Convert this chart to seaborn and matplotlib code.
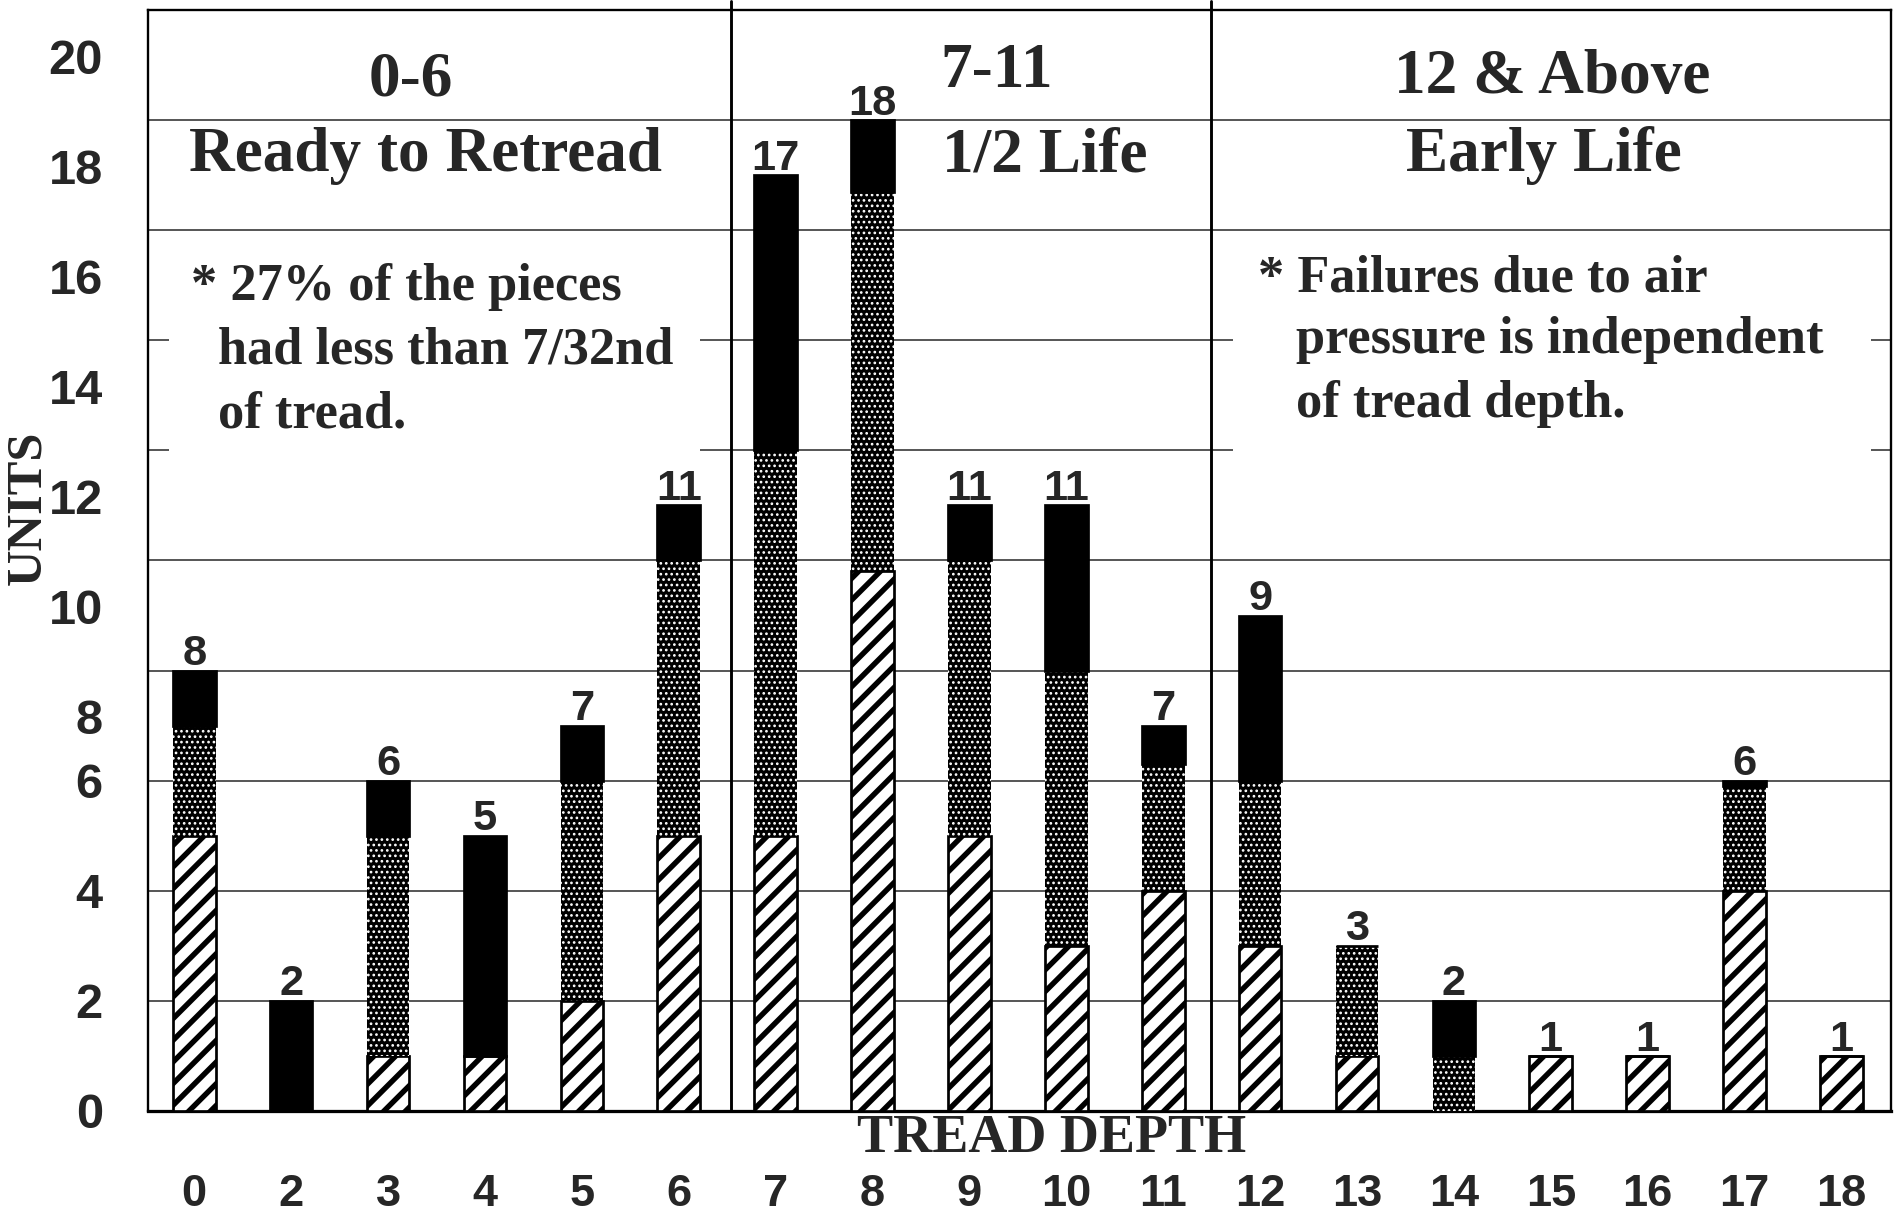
import numpy as np
import pandas as pd
import matplotlib
matplotlib.use('Agg')
import matplotlib.pyplot as plt
import matplotlib.transforms as mtransforms
from matplotlib.patches import Rectangle
import seaborn as sns

# Données
depth_labels = ['0', '2', '3', '4', '5', '6', '7', '8', '9', '10', '11',
                '12', '13', '14', '15', '16', '17', '18']
hatched_units = [5, 0, 1, 1, 2, 5, 5, 9.8, 5, 3, 4, 3, 1, 0, 1, 1, 4, 1]
dotted_units = [2, 0, 4, 0, 4, 5, 7, 6.9, 5, 5, 2.3, 3, 2, 1, 0, 0, 1.9, 0]
black_units = [1, 2, 1, 4, 1, 1, 5, 1.3, 1, 3, 0.7, 3, 0, 1, 0, 0, 0.1, 0]
total_labels = [8, 2, 6, 5, 7, 11, 17, 18, 11, 11, 7, 9, 3, 2, 1, 1, 6, 1]

y_ticks = [0, 2, 4, 6, 8, 10, 12, 14, 16, 18, 20]

section_titles = ['0-6', '7-11', '12 & Above']
section_subtitles = ['Ready to Retread', '1/2 Life', 'Early Life']
note_left = ['* 27% of the pieces', 'had less than 7/32nd', 'of tread.']
note_right = ['* Failures due to air', 'pressure is independent', 'of tread depth.']

df = pd.DataFrame({
    'depth': depth_labels,
    'hatched': hatched_units,
    'dotted': dotted_units,
    'black': black_units,
})

sns.set_theme(style='white')
plt.rcParams['font.family'] = ['Liberation Sans', 'DejaVu Sans']

DPI = 130
fig = plt.figure(figsize=(1904 / DPI, 1217 / DPI), dpi=DPI)
ax = fig.add_axes([0.0777, 0.0871, 0.9154, 0.9047])

bar_kw = dict(x='depth', order=depth_labels, width=0.44, saturation=1,
              errorbar=None, ax=ax, zorder=3)

# Partie hachurée (bas)
with plt.rc_context({'hatch.linewidth': 3.0}):
    sns.barplot(data=df, y='hatched', color='white', hatch='//',
                edgecolor='black', linewidth=1.5, **bar_kw)
# Partie pointillée (noir à points blancs)
with plt.rc_context({'hatch.linewidth': 0.9}):
    sns.barplot(data=df, y='dotted', bottom=df['hatched'].values,
                color='black', hatch='....', edgecolor='white', linewidth=0,
                **bar_kw)
# Partie noire (haut)
sns.barplot(data=df, y='black', bottom=(df['hatched'] + df['dotted']).values,
            color='black', edgecolor='black', linewidth=1.5, **bar_kw)

# Étiquettes des totaux
tops = df['hatched'] + df['dotted'] + df['black']
for i, (top, lab) in enumerate(zip(tops, total_labels)):
    ax.annotate(str(lab), (i, top), xytext=(0, 3), textcoords='offset points',
                ha='center', va='baseline', fontsize=24, fontweight='bold',
                fontfamily='Liberation Sans', zorder=6)

ax.set_xlim(-0.478, 17.51)
ax.set_ylim(0, 20)
ax.set_yticks(y_ticks)
ax.yaxis.grid(True, color='#333333', linewidth=0.9, zorder=0)
ax.set_axisbelow(True)

# Cadres blancs des textes (masquent la grille)
for x0, x1 in [(-0.26, 5.22), (10.72, 17.3)]:
    ax.add_patch(Rectangle((x0, 11.3), x1 - x0, 4.3, facecolor='white',
                           edgecolor='none', zorder=1))

# Séparateurs des sections
for xd in [5.54, 10.49]:
    ax.axvline(xd, ymin=0, ymax=1.008, color='black', linewidth=1.6,
               zorder=4, clip_on=False)

serif = dict(fontfamily='Liberation Serif', fontweight='bold')
title_pos = [(2.23, 18.45), (8.28, 18.61), (14.01, 18.5)]
subtitle_pos = [(2.39, 17.07), (8.78, 17.07), (13.93, 17.07)]
for (x, y), t in zip(title_pos, section_titles):
    ax.text(x, y, t, ha='center', va='baseline', fontsize=35, zorder=5, **serif)
for (x, y), t in zip(subtitle_pos, section_subtitles):
    ax.text(x, y, t, ha='center', va='baseline', fontsize=35, zorder=5, **serif)

left_x = [-0.03, 0.24, 0.24]
left_y = [14.74, 13.57, 12.42]
for x, y, t in zip(left_x, left_y, note_left):
    ax.text(x, y, t, ha='left', va='baseline', fontsize=29, zorder=5, **serif)
right_x = [10.98, 11.37, 11.37]
right_y = [14.89, 13.77, 12.6]
for x, y, t in zip(right_x, right_y, note_right):
    ax.text(x, y, t, ha='left', va='baseline', fontsize=29, zorder=5, **serif)

# Axes et graduations
for side in ['left', 'right', 'top', 'bottom']:
    ax.spines[side].set_visible(True)
    ax.spines[side].set_color('black')
    ax.spines[side].set_linewidth(1.3)
ax.spines['bottom'].set_linewidth(1.8)

ax.set_xlabel('')
ax.set_ylabel('')
ax.tick_params(axis='x', length=0, pad=35, labelsize=25)
ax.tick_params(axis='y', length=0, pad=25, labelsize=27)
ax.set_xticks(range(len(depth_labels)))
ax.set_xticklabels(depth_labels, fontweight='bold')
ax.set_xticks(np.arange(0.5, len(depth_labels) - 1, 1), minor=True)
ax.tick_params(axis='x', which='minor', length=7, width=0.8, color='#777777',
               direction='out')
ax.set_yticklabels([str(v) for v in y_ticks], fontweight='bold')

# Décalage des étiquettes hautes, comme sur l'original
shift = mtransforms.ScaledTranslation(0, -25.5 / 72, fig.dpi_scale_trans)
for v, lab in zip(y_ticks, ax.get_yticklabels()):
    if v >= 8:
        lab.set_transform(lab.get_transform() + shift)

fig.text(0.0150, 0.583, 'UNITS', rotation=90, ha='center', va='center',
         fontsize=28, **serif)
fig.text(0.5525, 0.064, 'TREAD DEPTH', ha='center', va='center',
         fontsize=30, **serif)

fig.savefig('out.png', dpi=DPI, facecolor='white')
